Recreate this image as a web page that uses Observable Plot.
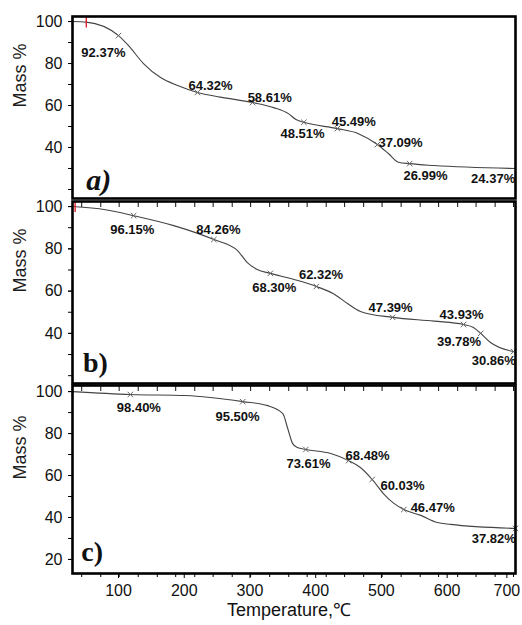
<!DOCTYPE html>
<html><head><meta charset="utf-8">
<script src="https://cdn.jsdelivr.net/npm/d3@7"></script>
<script src="https://cdn.jsdelivr.net/npm/@observablehq/plot@0.6"></script>
<style>
body{margin:0;background:#fff;}
#chart svg{display:block;}
</style></head>
<body><div id="chart"></div>
<script>
// ---- Panel a data ----
const aTemp = [30, 51, 100, 115, 138, 164, 190, 220, 255, 304, 336, 359, 370, 382, 433, 465, 494, 511, 526, 543, 580, 704];
const aMass = [100, 99.7, 93.3, 88.6, 80, 73.3, 69.5, 66.2, 64, 61.4, 59, 56, 53.3, 52, 49, 46.6, 41.4, 37, 33, 32.3, 31.4, 30];
const aMarkTemp = [100, 220, 304, 382, 433, 494, 543];
const aMarkMass = [93.3, 66.2, 61.4, 52, 49, 41.4, 32.3];
const aLabels = ["92.37%", "64.32%", "58.61%", "48.51%", "45.49%", "37.09%", "26.99%", "24.37%"];
const aLabelTemp = [77, 240, 330, 380, 458, 529, 567, 670];
const aLabelMass = [85.2, 69.5, 63.5, 46.6, 52, 42, 26.7, 25.2];
const aRedTemp = [30, 51];
const aRedMass = [100, 99.7];

// ---- Panel b data ----
const bTemp = [30, 80, 123, 184, 245, 281, 296, 311, 331, 367, 401, 427, 449, 468, 517, 580, 625, 640, 651, 666, 701];
const bMass = [100, 98.5, 95.7, 91, 84.4, 79.2, 73.5, 70.2, 68.4, 65.5, 62.2, 58.8, 54, 50.4, 47.6, 45.8, 44.2, 42.8, 40, 35.7, 31.4];
const bMarkTemp = [123, 245, 331, 401, 517, 625, 651, 701];
const bMarkMass = [95.7, 84.4, 68.4, 62.2, 47.6, 44.2, 40, 31.4];
const bLabels = ["96.15%", "84.26%", "68.30%", "62.32%", "47.39%", "43.93%", "39.78%", "30.86%"];
const bLabelTemp = [121, 252, 337, 408, 514, 622, 618, 671];
const bLabelMass = [89.1, 89.1, 61.7, 67.8, 52.3, 49, 36.2, 27.2];
const bRedTemp = [34];
const bRedMass = [100];

// ---- Panel c data ----
const cTemp = [30, 118, 202, 289, 327, 350, 357, 365, 372, 385, 423, 450, 468, 486, 503, 519, 534, 560, 585, 605, 704];
const cMass = [100, 98.6, 98.1, 95.2, 93.3, 89.5, 82.9, 75.2, 73.3, 72.4, 70.5, 67.1, 63.8, 58.1, 51.4, 46.7, 43.8, 41, 37.6, 36.7, 34.8];
const cMarkTemp = [118, 289, 385, 450, 486, 534, 704];
const cMarkMass = [98.6, 95.2, 72.4, 67.1, 58.1, 43.8, 34.8];
const cLabels = ["98.40%", "95.50%", "73.61%", "68.48%", "60.03%", "46.47%", "37.82%"];
const cLabelTemp = [131, 281, 389, 479, 532, 578, 671];
const cLabelMass = [92.4, 88, 65.7, 69.5, 55.2, 44.8, 30];
const cRedTemp = [30];
const cRedMass = [100];

// ---- Axis ticks ----
const xTickLabels = [100, 200, 300, 400, 500, 600];
const xLastTick = [700];
const xMinorTicks = [44, 73, 101, 130, 159, 187, 216, 244, 273, 301, 330, 359, 387, 416, 444, 473, 501, 530, 559, 587, 616, 644, 673, 701];
const yTicksAB = [40, 60, 80, 100];
const yTicksC = [20, 40, 60, 80, 100];
const yMinorTicks = [20, 30, 40, 50, 60, 70, 80, 90, 100];
const xDomain = [30, 704];

const FONT = "'Liberation Sans', Arial, sans-serif";
const vbar = {draw(ctx, size) { const h = Math.sqrt(size); ctx.moveTo(0, -h); ctx.lineTo(0, h); }};

function rows(T, M) { return T.map((t, i) => ({t, m: M[i]})); }

function panel(o) {
  const frameH = o.height - o.marginTop - o.marginBottom;
  const curve = rows(o.T, o.M);
  const marks = rows(o.markT, o.markM);
  const labels = o.labels.map((s, i) => ({s, t: o.labT[i], m: o.labM[i]}));
  const reds = rows(o.redT, o.redM);
  const m = [
    Plot.axisY({ticks: yMinorTicks, tickSize: 4, tickFormat: () => "", label: null}),
    Plot.axisY({ticks: o.yTicks, tickSize: 4, tickPadding: 6, fontSize: 16, label: null, fill: "#111"}),
    Plot.line(curve, {x: "t", y: "m", curve: "monotone-x", stroke: "#444", strokeWidth: 1.1}),
    Plot.dot(marks, {x: "t", y: "m", symbol: "times", r: 2.6, stroke: "#666", strokeWidth: 1}),
    Plot.dot(reds, {x: "t", y: "m", symbol: vbar, r: 3, stroke: "#e0202a", strokeWidth: 1.4}),
    Plot.text(labels, {x: "t", y: "m", text: "s", fontSize: 13, fontWeight: "bold", fill: "#111"}),
    Plot.text([o.letter], {x: o.letterT, y: o.letterM, fontSize: o.letterSize, fontWeight: "bold", fontStyle: o.italic ? "italic" : "normal", fontFamily: "'Liberation Serif', 'DejaVu Serif', serif", fill: "#111"}),
    Plot.text(["Mass %"], {frameAnchor: "left", dx: -52, rotate: -90, fontSize: 18, fill: "#1d1d1d"}),
  ];
  if (o.topTicks) {
    m.push(Plot.tickX(xMinorTicks, {x: d => d, insetBottom: frameH - 6, stroke: "#111", strokeWidth: 1}));
  }
  if (o.xAxis) {
    m.push(Plot.axisX({ticks: xMinorTicks, tickSize: 4, tickFormat: () => "", label: null}));
    m.push(Plot.axisX({ticks: xTickLabels, tickSize: 5, tickPadding: 6, fontSize: 16, label: null, fill: "#111"}));
    m.push(Plot.axisX({ticks: xLastTick, tickSize: 5, tickPadding: 6, fontSize: 16, label: null, fill: "#111", dx: -6}));
    m.push(Plot.text(["Temperature,℃"], {frameAnchor: "bottom", dy: 42, dx: -5, fontSize: 18, fill: "#111"}));
  }
  m.push(Plot.frame({stroke: "#000", strokeWidth: 2.6}));
  return Plot.plot({
    width: 522, height: o.height,
    marginLeft: 72, marginRight: 7, marginTop: o.marginTop, marginBottom: o.marginBottom,
    style: {fontFamily: FONT, background: "#fff", overflow: "visible"},
    x: {domain: xDomain, axis: null},
    y: {domain: o.yDomain, axis: null},
    marks: m
  });
}

const chart = document.getElementById("chart");
chart.append(panel({height: 199, marginTop: 16, marginBottom: 1, yDomain: [15.7, 102.4],
  T: aTemp, M: aMass, markT: aMarkTemp, markM: aMarkMass, labels: aLabels, labT: aLabelTemp, labM: aLabelMass,
  redT: aRedTemp, redM: aRedMass, letter: "a)", letterT: 70, letterM: 24.5, letterSize: 30, italic: true,
  yTicks: yTicksAB, xAxis: false, topTicks: false}));
chart.append(panel({height: 185, marginTop: 2, marginBottom: 1, yDomain: [16.3, 102.4],
  T: bTemp, M: bMass, markT: bMarkTemp, markM: bMarkMass, labels: bLabels, labT: bLabelTemp, labM: bLabelMass,
  redT: bRedTemp, redM: bRedMass, letter: "b)", letterT: 65, letterM: 26.2, letterSize: 28, italic: false,
  yTicks: yTicksAB, xAxis: false, topTicks: true}));
chart.append(panel({height: 241, marginTop: 1, marginBottom: 52, yDomain: [13.3, 102.9],
  T: cTemp, M: cMass, markT: cMarkTemp, markM: cMarkMass, labels: cLabels, labT: cLabelTemp, labM: cLabelMass,
  redT: cRedTemp, redM: cRedMass, letter: "c)", letterT: 60, letterM: 23.3, letterSize: 28, italic: false,
  yTicks: yTicksC, xAxis: true, topTicks: true}));
</script>
</body></html>
